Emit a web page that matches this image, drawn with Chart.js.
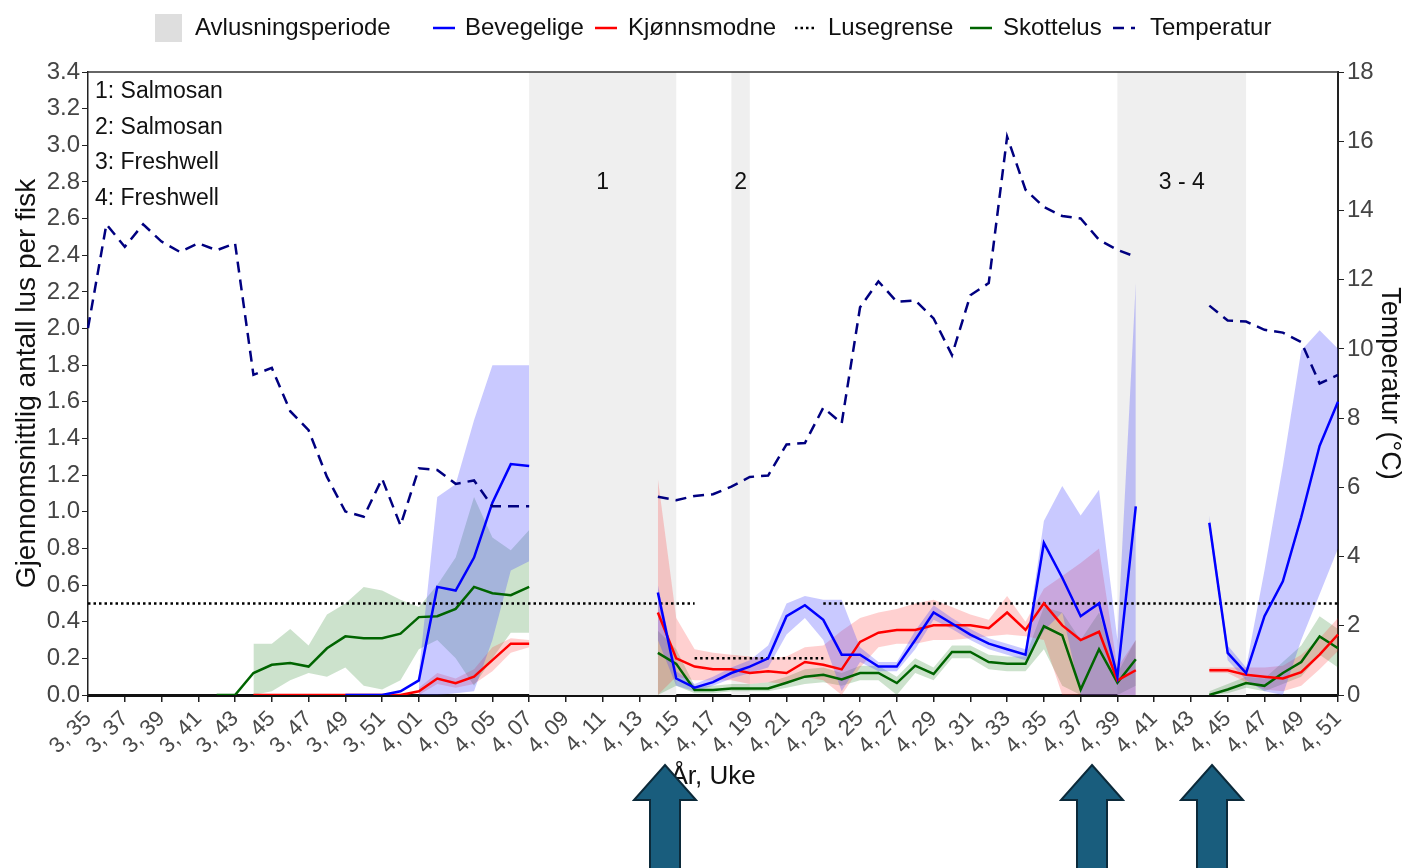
<!DOCTYPE html>
<html lang="no">
<head>
<meta charset="UTF-8">
<title>Lusetelling</title>
<script src="https://cdn.jsdelivr.net/npm/chart.js"></script>
<style>
  html, body { margin: 0; padding: 0; background: #fff; }
  .chart-box { position: relative; width: 1409px; height: 868px; }
</style>
</head>
<body>
<div class="chart-box"><canvas id="liceChart"></canvas></div>
<script>
// År, uke
const weeks = [
  '3, 35','3, 36','3, 37','3, 38','3, 39','3, 40','3, 41','3, 42','3, 43','3, 44',
  '3, 45','3, 46','3, 47','3, 48','3, 49','3, 50','3, 51','3, 52','4, 01','4, 02',
  '4, 03','4, 04','4, 05','4, 06','4, 07','4, 08','4, 09','4, 10','4, 11','4, 12',
  '4, 13','4, 14','4, 15','4, 16','4, 17','4, 18','4, 19','4, 20','4, 21','4, 22',
  '4, 23','4, 24','4, 25','4, 26','4, 27','4, 28','4, 29','4, 30','4, 31','4, 32',
  '4, 33','4, 34','4, 35','4, 36','4, 37','4, 38','4, 39','4, 40','4, 41','4, 42',
  '4, 43','4, 44','4, 45','4, 46','4, 47','4, 48','4, 49','4, 50','4, 51'
];

// Temperatur (°C), høyre akse
const temperature = [
  10.6, 13.6, 12.95, 13.6, 13.1, 12.8, 13.05, 12.85, 13.05, 9.25,
  9.45, 8.2, 7.65, 6.3, 5.3, 5.15, 6.25, 4.9, 6.55, 6.5,
  6.1, 6.2, 5.45, 5.45, 5.45, null, null, null, null, null,
  null, 5.73, 5.63, 5.75, 5.8, 6.02, 6.3, 6.34, 7.24, 7.28,
  8.3, 7.85, 11.2, 11.95, 11.36, 11.4, 10.88, 9.82, 11.55, 11.9,
  16.13, 14.6, 14.1, 13.84, 13.77, 13.15, 12.86, 12.66, null, null,
  null, 11.25, 10.82, 10.79, 10.55, 10.47, 10.2, 9.0, 9.25
];

// Gjennomsnittlig antall lus per fisk
const bevegelige = [
  null, null, null, null, null, null, null, null, null, null,
  null, null, null, null, 0, 0, 0, 0.02, 0.08, 0.59,
  0.57, 0.75, 1.05, 1.26, 1.25, null, null, null, null, null,
  null, 0.56, 0.09, 0.04, 0.07, 0.12, 0.155, 0.2, 0.43, 0.49,
  0.41, 0.22, 0.22, 0.155, 0.155, 0.3, 0.45, 0.39, 0.33, 0.28,
  0.25, 0.22, 0.83, 0.64, 0.43, 0.5, 0.1, 1.03, null, null,
  null, 0.94, 0.23, 0.12, 0.43, 0.62, 0.97, 1.36, 1.6
];
const bevegeligeLow = [
  null, null, null, null, null, null, null, null, null, null,
  null, null, null, null, null, null, null, null, 0, 0,
  0.01, 0.02, 0.3, 0.68, 0.73, null, null, null, null, null,
  null, 0.3, 0.05, 0.02, 0.05, 0.09, 0.12, 0.15, 0.33, 0.42,
  0.3, 0.02, 0.18, 0.13, 0.13, 0.25, 0.41, 0.36, 0.3, 0.25,
  0.22, 0.19, 0.35, 0.45, 0, 0, 0, 0, null, null,
  null, 0.9, 0.19, 0.08, 0.02, 0, 0.3, 0.55, 0.8
];
const bevegeligeHigh = [
  null, null, null, null, null, null, null, null, null, null,
  null, null, null, null, null, null, null, null, 0.12, 1.08,
  1.15, 1.5, 1.8, 1.8, 1.8, null, null, null, null, null,
  null, 0.6, 0.13, 0.06, 0.1, 0.15, 0.19, 0.27, 0.5, 0.54,
  0.52, 0.52, 0.26, 0.18, 0.18, 0.35, 0.49, 0.42, 0.36, 0.31,
  0.28, 0.25, 0.95, 1.14, 0.98, 1.12, 0.3, 2.25, null, null,
  null, 0.98, 0.27, 0.15, 0.68, 1.25, 1.88, 1.99, 1.89
];

const kjonnsmodne = [
  null, null, null, null, null, null, null, null, null, 0,
  0, 0, 0, 0, 0, 0, 0, 0, 0.02, 0.09,
  0.065, 0.1, 0.19, 0.28, 0.28, null, null, null, null, null,
  null, 0.45, 0.2, 0.155, 0.14, 0.14, 0.12, 0.13, 0.12, 0.18,
  0.165, 0.14, 0.29, 0.34, 0.355, 0.355, 0.38, 0.38, 0.38, 0.365,
  0.45, 0.355, 0.5, 0.38, 0.3, 0.345, 0.08, 0.135, null, null,
  null, 0.135, 0.135, 0.11, 0.1, 0.09, 0.125, 0.22, 0.33
];
const kjonnsmodneLow = [
  null, null, null, null, null, null, null, null, null, null,
  null, null, null, null, null, null, null, null, 0, 0.06,
  0.04, 0.06, 0.13, 0.23, 0.26, null, null, null, null, null,
  null, 0, 0.1, 0.08, 0.08, 0.08, 0.06, 0.07, 0.06, 0.1,
  0.08, 0, 0.15, 0.26, 0.28, 0.28, 0.3, 0.3, 0.31, 0.32,
  0.33, 0.32, 0.3, 0, 0, 0, 0, 0, null, null,
  null, 0.12, 0.12, 0.07, 0.03, 0.02, 0.05, 0.14, 0.24
];
const kjonnsmodneHigh = [
  null, null, null, null, null, null, null, null, null, null,
  null, null, null, null, null, null, null, null, 0.04, 0.12,
  0.09, 0.14, 0.26, 0.31, 0.3, null, null, null, null, null,
  null, 1.18, 0.42, 0.25, 0.23, 0.22, 0.21, 0.2, 0.21, 0.26,
  0.27, 0.35, 0.42, 0.45, 0.47, 0.5, 0.52, 0.48, 0.44, 0.41,
  0.54, 0.4, 0.58, 0.65, 0.72, 0.8, 0.15, 0.3, null, null,
  null, 0.15, 0.15, 0.15, 0.15, 0.16, 0.22, 0.31, 0.42
];

const skottelus = [
  null, null, null, null, null, null, null, 0, 0, 0.12,
  0.165, 0.175, 0.155, 0.255, 0.32, 0.31, 0.31, 0.335, 0.425, 0.43,
  0.47, 0.59, 0.555, 0.545, 0.59, null, null, null, null, null,
  null, 0.23, 0.17, 0.027, 0.027, 0.035, 0.035, 0.036, 0.067, 0.1,
  0.11, 0.085, 0.12, 0.12, 0.065, 0.16, 0.115, 0.235, 0.235, 0.18,
  0.17, 0.17, 0.375, 0.325, 0.03, 0.25, 0.067, 0.195, null, null,
  null, 0, 0.03, 0.065, 0.05, 0.12, 0.18, 0.32, 0.255
];
const skottelusLow = [
  null, null, null, null, null, null, null, null, null, 0,
  0.02, 0.08, 0.12, 0.1, 0.15, 0.05, 0.03, 0.08, 0.25, 0.3,
  0.2, 0.05, 0.2, 0.34, 0.34, null, null, null, null, null,
  null, 0, 0.05, 0.01, 0.01, 0.02, 0.02, 0.02, 0.04, 0.06,
  0.07, 0.05, 0.08, 0.08, 0, 0.12, 0.08, 0.2, 0.2, 0.14,
  0.13, 0.13, 0.25, 0.05, 0, 0, 0, 0.05, null, null,
  null, 0, 0.01, 0.04, 0.02, 0.06, 0.1, 0.22, 0.15
];
const skottelusHigh = [
  null, null, null, null, null, null, null, null, null, 0.28,
  0.28, 0.36, 0.27, 0.44, 0.5, 0.59, 0.57, 0.52, 0.48, 0.6,
  0.75, 1.08, 0.86, 0.79, 0.9, null, null, null, null, null,
  null, 0.35, 0.25, 0.05, 0.05, 0.06, 0.06, 0.07, 0.1, 0.14,
  0.15, 0.12, 0.16, 0.16, 0.1, 0.2, 0.15, 0.27, 0.27, 0.22,
  0.21, 0.21, 0.48, 0.45, 0.3, 0.45, 0.12, 0.3, null, null,
  null, 0.02, 0.06, 0.1, 0.09, 0.18, 0.27, 0.43, 0.36
];

// Lusegrense per periode
const liceLimits = [
  { from: '3, 35', to: '4, 16', value: 0.5 },
  { from: '4, 16', to: '4, 23', value: 0.2 },
  { from: '4, 23', to: '4, 51', value: 0.5 }
];

// Avlusningsperioder
const treatmentPeriods = [['4, 07', '4, 15'], ['4, 18', '4, 19'], ['4, 39', '4, 46']];
const periodMarks = ['1', '2', '3 - 4'];
const treatments = ['1: Salmosan', '2: Salmosan', '3: Freshwell', '4: Freshwell'];

const leftTicks = { min: 0, max: 3.4, step: 0.2 };
const rightTicks = { min: 0, max: 18, step: 2 };

const FONT = "'Liberation Sans', Arial, sans-serif";
Chart.defaults.font.family = FONT;

function band(low, high, color) {
  return [
    { label: 'low', data: low, borderWidth: 0, borderColor: 'transparent', fill: false, order: 10 },
    { label: 'high', data: high, borderWidth: 0, borderColor: 'transparent', backgroundColor: color, fill: '-1', order: 10 }
  ];
}

const datasets = [
  { label: 'Temperatur', data: temperature, yAxisID: 'y2', borderColor: '#000080', borderWidth: 2.5, borderDash: [11, 7], fill: false, order: 0 },
  { label: 'Bevegelige', data: bevegelige, borderColor: '#0000ff', borderWidth: 2.5, fill: false, order: 1 },
  { label: 'Kjønnsmodne', data: kjonnsmodne, borderColor: '#ff0000', borderWidth: 2.5, fill: false, order: 2 },
  { label: 'Skottelus', data: skottelus, borderColor: '#006400', borderWidth: 2.5, fill: false, order: 3 },
  ...liceLimits.map(l => ({
    label: 'Lusegrense',
    data: [{ x: l.from, y: l.value }, { x: l.to, y: l.value }],
    borderColor: '#000', borderWidth: 2.5, borderDash: [2.5, 3], fill: false, order: 4
  })),
  ...band(bevegeligeLow, bevegeligeHigh, 'rgba(60, 60, 255, 0.28)'),
  ...band(kjonnsmodneLow, kjonnsmodneHigh, 'rgba(255, 40, 40, 0.22)'),
  ...band(skottelusLow, skottelusHigh, 'rgba(0, 110, 0, 0.2)')
];

// grå avlusningsperioder bak dataene
const shadingPlugin = {
  id: 'shading',
  beforeDatasetsDraw(chart) {
    const { ctx, chartArea, scales: { x } } = chart;
    ctx.save();
    ctx.fillStyle = '#efefef';
    treatmentPeriods.forEach(([a, b]) => {
      const x1 = x.getPixelForValue(weeks.indexOf(a));
      const x2 = x.getPixelForValue(weeks.indexOf(b));
      ctx.fillRect(x1, chartArea.top, x2 - x1, chartArea.bottom - chartArea.top);
    });
    ctx.restore();
  }
};

// legende, tekster og piler
const overlayPlugin = {
  id: 'overlay',
  afterDraw(chart) {
    const { ctx, chartArea, scales: { x } } = chart;
    ctx.save();

    // ramme øverst
    ctx.strokeStyle = '#333';
    ctx.lineWidth = 1.5;
    ctx.beginPath();
    ctx.moveTo(chartArea.left, chartArea.top);
    ctx.lineTo(chartArea.right, chartArea.top);
    ctx.stroke();

    // legende
    const ly = 28;
    ctx.font = '24px ' + FONT;
    ctx.textBaseline = 'middle';
    ctx.textAlign = 'left';
    ctx.fillStyle = '#dedede';
    ctx.fillRect(155, 14, 27, 28);
    const items = [
      { text: 'Avlusningsperiode', tx: 195 },
      { text: 'Bevegelige', tx: 465, sx: 433, color: '#0000ff', dash: [] },
      { text: 'Kjønnsmodne', tx: 628, sx: 595, color: '#ff0000', dash: [] },
      { text: 'Lusegrense', tx: 828, sx: 795, color: '#000', dash: [2.5, 3] },
      { text: 'Skottelus', tx: 1003, sx: 970, color: '#006400', dash: [] },
      { text: 'Temperatur', tx: 1150, sx: 1113, color: '#000080', dash: [11, 7] }
    ];
    items.forEach(it => {
      if (it.sx !== undefined) {
        ctx.strokeStyle = it.color;
        ctx.lineWidth = 2.5;
        ctx.setLineDash(it.dash);
        ctx.beginPath();
        ctx.moveTo(it.sx, ly);
        ctx.lineTo(it.sx + 22, ly);
        ctx.stroke();
        ctx.setLineDash([]);
      }
      ctx.fillStyle = '#111';
      ctx.fillText(it.text, it.tx, ly);
    });

    // behandlinger
    ctx.font = '23px ' + FONT;
    treatments.forEach((t, i) => ctx.fillText(t, chartArea.left + 7, chartArea.top + 20 + i * 35.5));

    // periodenummer
    ctx.textAlign = 'center';
    treatmentPeriods.forEach(([a, b], i) => {
      const cx = (x.getPixelForValue(weeks.indexOf(a)) + x.getPixelForValue(weeks.indexOf(b))) / 2;
      ctx.fillText(periodMarks[i], cx, chartArea.top + 111);
    });

    // piler
    ctx.fillStyle = '#195d7d';
    ctx.strokeStyle = '#0c2a3a';
    ctx.lineWidth = 2;
    [665, 1092, 1212].forEach(cx => {
      const tip = 765, base = 800, bottom = 875;
      ctx.beginPath();
      ctx.moveTo(cx, tip);
      ctx.lineTo(cx + 31, base);
      ctx.lineTo(cx + 15, base);
      ctx.lineTo(cx + 15, bottom);
      ctx.lineTo(cx - 15, bottom);
      ctx.lineTo(cx - 15, base);
      ctx.lineTo(cx - 31, base);
      ctx.closePath();
      ctx.fill();
      ctx.stroke();
    });
    ctx.restore();
  }
};

new Chart(document.getElementById('liceChart'), {
  type: 'line',
  data: { labels: weeks, datasets },
  options: {
    responsive: true,
    maintainAspectRatio: false,
    animation: false,
    layout: { padding: { top: 72, bottom: 72, left: 0, right: 0 } },
    elements: { point: { radius: 0 }, line: { tension: 0 } },
    plugins: { legend: { display: false }, tooltip: { enabled: false } },
    scales: {
      x: {
        type: 'category',
        offset: false,
        grid: {
          drawOnChartArea: false, tickLength: 7, lineWidth: 1.5,
          color: c => (c.index % 2 === 0 ? '#222' : 'rgba(0,0,0,0)')
        },
        border: { color: '#111', width: 3 },
        ticks: {
          autoSkip: false, minRotation: 45, maxRotation: 45, padding: 4,
          color: '#4a4a4a', font: { size: 22 },
          callback(value, index) { return index % 2 === 0 ? this.getLabelForValue(value) : ''; }
        },
        title: { display: true, text: 'År, Uke', color: '#111', font: { size: 26 }, padding: { top: 0, bottom: 4 } },
        afterFit(scale) { scale.height = 101; }
      },
      y: {
        position: 'left',
        min: leftTicks.min, max: leftTicks.max,
        grid: { drawOnChartArea: false, tickLength: 6, color: '#222' },
        border: { color: '#222', width: 1.5 },
        ticks: { stepSize: leftTicks.step, color: '#444', font: { size: 24 }, padding: 2, callback: v => v.toFixed(1) },
        title: { display: true, text: 'Gjennomsnittlig antall lus per fisk', color: '#111', font: { size: 28 }, padding: { top: 10 } },
        afterFit(scale) { scale.width = 88; }
      },
      y2: {
        position: 'right',
        min: rightTicks.min, max: rightTicks.max,
        grid: { drawOnChartArea: false, tickLength: 6, color: '#222' },
        border: { color: '#222', width: 2 },
        ticks: { stepSize: rightTicks.step, color: '#444', font: { size: 24 }, padding: 3 },
        title: { display: true, text: 'Temperatur (°C)', color: '#111', font: { size: 27 }, padding: { top: 3 } },
        afterFit(scale) { scale.width = 71; }
      }
    }
  },
  plugins: [shadingPlugin, overlayPlugin]
});
</script>
</body>
</html>
